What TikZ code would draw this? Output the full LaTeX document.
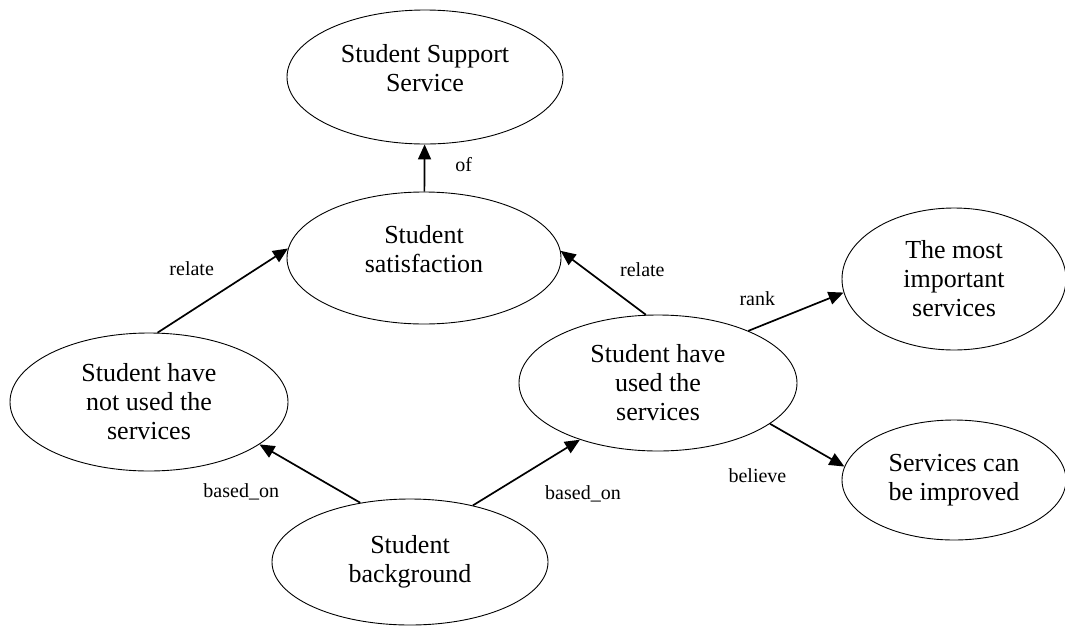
\documentclass[tikz,border=0pt]{standalone}
\usepackage{fontspec}
\setmainfont{Liberation Serif}
\usetikzlibrary{arrows.meta,shapes.geometric}
\tikzset{
  oval/.style={draw,ellipse,line width=0.9pt,inner sep=0pt,align=center,
    font=\fontsize{26}{29}\selectfont},
  arr/.style={-{Triangle[length=15pt,width=13pt]},line width=1.7pt},
  lbl/.style={font=\fontsize{20}{24}\selectfont,inner sep=0pt},
}

\begin{document}
\begin{tikzpicture}[x=1pt,y=-1pt]
  \useasboundingbox (0,0) rectangle (1065,627);

  \node[oval,minimum width=276pt,minimum height=134pt] (sss) at (425,77) {Student Support\\Service\\[-10pt]\mbox{}};
  \node[oval,minimum width=274pt,minimum height=132pt] (satis) at (424,258) {Student\\satisfaction\\[-10pt]\mbox{}};
  \node[oval,minimum width=278pt,minimum height=138pt] (notused) at (149,402) {Student have\\not used the\\services};
  \node[oval,minimum width=278pt,minimum height=136pt] (used) at (658,383) {Student have\\used the\\services};
  \node[oval,minimum width=224pt,minimum height=142pt] (important) at (954,279) {The most\\important\\services};
  \node[oval,minimum width=224pt,minimum height=120pt] (improved) at (954,480) {Services can\\be improved};
  \node[oval,minimum width=276pt,minimum height=126pt] (bg) at (410,562) {Student\\background};

  \draw[arr] (satis) -- node[lbl,midway,right=30pt,yshift=3pt]{of} (sss);
  \draw[arr] (notused.83) -- node[lbl,midway,above left,xshift=-8pt,yshift=14pt]{relate} (satis.176);
  \draw[arr] (used.100) -- node[lbl,midway,right,xshift=16pt,yshift=13pt]{relate} (satis.3);
  \draw[arr] (used.30) -- node[lbl,midway,above left,xshift=-20pt,yshift=5pt]{rank} (important.187);
  \draw[arr] (used.-20) -- node[lbl,midway,below left,xshift=-20pt,yshift=-23pt]{believe} (improved.173);

  \draw[arr] (bg.130) -- node[lbl,midway,below left,xshift=-30pt,yshift=-9pt]{based\_on} (notused.-21);
  \draw[arr] (bg.42) -- node[lbl,midway,below right,xshift=18pt,yshift=-12pt]{based\_on} (used.216);
\end{tikzpicture}
\end{document}
